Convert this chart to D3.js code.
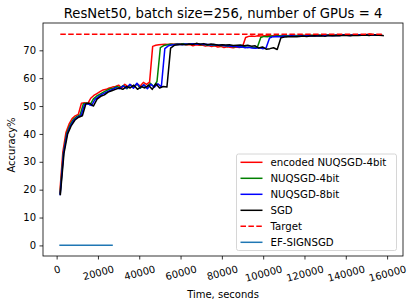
<!DOCTYPE html>
<html>
<head>
<meta charset="utf-8">
<script src="https://cdn.jsdelivr.net/npm/d3@7"></script>
<style>
  body { margin: 0; background: #fff; }
  text { font-family: "DejaVu Sans", sans-serif; }
</style>
</head>
<body>
<div id="chart"></div>
<script>
var redAcc = [18.5, 33.5, 40.5, 43.5, 45.5, 46.5, 47, 51, 51.2, 50.8,
  52.8, 53.8, 54.5, 55.2, 55.8, 56, 56.5, 56.8, 57, 57.5,
  56.5, 57.8, 57, 57.5, 56.8, 58, 57.2, 58.5, 57.8, 58.6,
  71.4, 71.8, 72, 72.1, 72.2, 72.1, 72.3, 72.2, 72.4, 72.2,
  72.3, 72, 72.1, 71.6, 72, 71.8, 71.9, 71.5, 71.7, 71.4,
  71.6, 71.2, 71.4, 71, 71.3, 71.1, 70.9, 71.2, 71, 71.3,
  74.6, 75, 75.1, 75, 75.2, 75.1, 75.2, 75.3, 75.1, 75.2,
  75.3, 75.2, 75.4, 75.2, 75.3, 75.4, 75.3, 75.2, 75.4, 75.3,
  75.5, 75.3, 75.4, 75.5, 75.3, 75.4, 75.6, 75.4, 75.5, 75.4,
  75.5, 75.6, 75.4, 75.5, 75.6, 75.5, 75.4, 75.6, 75.5, 75.7,
  75.9, 75.6, 75.5, 75.4, 75.3];
var greenAcc = [18.2, 33, 40.2, 43.2, 45.2, 46.2, 46.8, 50.8, 51, 50.4,
  52.6, 53.6, 54.3, 55, 55.6, 56.2, 56.4, 57, 56.6, 57.4,
  56.2, 57.6, 56.8, 58, 56.4, 57.6, 56.6, 58.2, 57, 58.8,
  71, 71.7, 72, 72.2, 72.1, 72.3, 72.2, 72.4, 72.1, 72.3,
  72.2, 72.4, 72, 72.2, 71.8, 72, 71.7, 71.9, 71.6, 71.8,
  71.4, 71.6, 71.2, 71.5, 71.1, 71.4, 71, 71.2, 70.9, 71.1,
  74.6, 75, 74.9, 75.1, 75, 75.2, 75.1, 75.3, 75.2, 75.1,
  75.3, 75.2, 75.4, 75.3, 75.2, 75.4, 75.3, 75.5, 75.4, 75.3,
  75.5, 75.4, 75.3, 75.5, 75.4, 75.6, 75.5, 75.4, 75.6, 75.5,
  75.4, 75.6, 75.5, 75.7, 75.5, 75.6, 75.4];
var blueAcc = [18, 33.2, 40, 43, 45, 46, 46.6, 50.6, 50.8, 50.2,
  52.4, 53.4, 54.2, 54.8, 55.4, 56, 56.6, 56.2, 57.2, 56.4,
  57.8, 56.4, 58.2, 56.6, 57.6, 56.2, 57.8, 56.8, 58, 56.9,
  70.6, 71.6, 71.9, 72.1, 72.2, 72, 72.3, 72.2, 72.4, 72.2,
  72.3, 72.1, 72.2, 71.9, 72.1, 71.8, 71.9, 71.6, 71.7, 71.4,
  71.5, 71.2, 71.3, 70.9, 71.1, 70.8, 70.7, 70.9, 70.6, 70.8,
  74.4, 74.9, 75, 74.9, 75.1, 75, 75.2, 75.1, 75, 75.2,
  75.1, 75.3, 75.2, 75.1, 75.3, 75.2, 75.4, 75.3, 75.2, 75.4,
  75.3, 75.5, 75.4, 75.3, 75.5, 75.4, 75.6, 75.5, 75.4, 75.6,
  75.5, 75.4, 75.6];
var sgdAcc = [18, 33, 40, 43, 45, 46, 46.5, 51, 51, 50,
  52.5, 53.5, 54, 55, 55.5, 56, 56.5, 56, 57, 56.5,
  57.5, 56, 57, 56.5, 57.5, 56, 58, 56.5, 57, 56.8,
  70.8, 71.8, 72, 72.2, 72, 72.3, 72.1, 72.5, 72.2, 72.4,
  72, 72.3, 72.1, 71.8, 72, 71.9, 72, 71.7, 71.8, 71.9,
  71.6, 71.8, 71.5, 71.6, 70.8, 71.2, 70.4, 70.6, 70.9, 70.3,
  74.5, 74.8, 74.9, 75, 74.9, 75, 75.1, 75, 75.1, 75.2,
  75.1, 75.2, 75, 75.3, 75.2, 75.3, 75.2, 75.4, 75.3, 75.2,
  75.4, 75.3, 75.4, 75.5, 75.3, 75.6, 75.4, 75.5, 75.2];
var secPerEpoch = { red: 1500, green: 1620, blue: 1690, black: 1780 };

var targetTime = [1780, 158420];
var targetAcc = [75.8, 75.8];
var efTime = [1300, 27200];
var efAcc = [0.1, 0.1];

var xTicks = [0, 20000, 40000, 60000, 80000, 100000, 120000, 140000, 160000];
var yTicks = [0, 10, 20, 30, 40, 50, 60, 70];

var seriesNames = ["encoded NUQSGD-4bit", "NUQSGD-4bit", "NUQSGD-8bit", "SGD", "Target", "EF-SIGNSGD"];
var seriesColors = ["#ff0000", "#008000", "#0000ff", "#000000", "#ff0000", "#1f77b4"];

var svgWidth = 416, svgHeight = 307;
var plot = { left: 43, right: 403, top: 23, bottom: 256 };

var svg = d3.select("#chart").append("svg")
    .attr("width", svgWidth)
    .attr("height", svgHeight);

var x = d3.scaleLinear().domain([-6600, 167700]).range([plot.left, plot.right]);
var y = d3.scaleLinear().domain([-3.8, 79.8]).range([plot.bottom, plot.top]);

function epochSeries(acc, dt) {
    return acc.map(function(a, i) { return { t: (i + 1) * dt, a: a }; });
}
function pairSeries(ts, as) {
    return ts.map(function(t, i) { return { t: t, a: as[i] }; });
}

var line = d3.line()
    .x(function(d) { return x(d.t); })
    .y(function(d) { return y(d.a); });

var curves = [
    { data: epochSeries(redAcc, secPerEpoch.red), color: seriesColors[0], dash: null },
    { data: epochSeries(greenAcc, secPerEpoch.green), color: seriesColors[1], dash: null },
    { data: epochSeries(blueAcc, secPerEpoch.blue), color: seriesColors[2], dash: null },
    { data: epochSeries(sgdAcc, secPerEpoch.black), color: seriesColors[3], dash: null },
    { data: pairSeries(targetTime, targetAcc), color: seriesColors[4], dash: "5.5,2.4" },
    { data: pairSeries(efTime, efAcc), color: seriesColors[5], dash: null }
];

svg.append("defs").append("clipPath").attr("id", "clip")
    .append("rect")
    .attr("x", plot.left).attr("y", plot.top)
    .attr("width", plot.right - plot.left).attr("height", plot.bottom - plot.top);

var g = svg.append("g").attr("clip-path", "url(#clip)");
curves.forEach(function(c) {
    g.append("path")
        .datum(c.data)
        .attr("fill", "none")
        .attr("stroke", c.color)
        .attr("stroke-width", 1.5)
        .attr("stroke-linejoin", "round")
        .attr("stroke-dasharray", c.dash)
        .attr("d", line);
});

// axes
var xAxis = svg.append("g")
    .attr("transform", "translate(0," + plot.bottom + ")")
    .call(d3.axisBottom(x).tickValues(xTicks).tickSizeOuter(0).tickSize(3.5).tickFormat(d3.format("d")));
xAxis.select(".domain").remove();
xAxis.selectAll("line").attr("stroke-width", 0.8);

// rotated tick labels, bounding box centred under the tick like matplotlib
var ang = 15 * Math.PI / 180;
xAxis.selectAll("text").each(function(d) {
    var t = d3.select(this);
    t.attr("font-size", 10).attr("font-family", "DejaVu Sans").attr("fill", "#000");
    var w = this.getComputedTextLength();
    var h = 11.6;
    var bh = w * Math.sin(ang) + h * Math.cos(ang);
    t.attr("y", null).attr("dy", null)
        .attr("dominant-baseline", "central")
        .attr("text-anchor", "middle")
        .attr("transform", "translate(0," + (7 + bh / 2) + ") rotate(-15)");
});

var yAxis = svg.append("g")
    .attr("transform", "translate(" + plot.left + ",0)")
    .call(d3.axisLeft(y).tickValues(yTicks).tickSizeOuter(0).tickSize(3.5));
yAxis.select(".domain").remove();
yAxis.selectAll("line").attr("stroke-width", 0.8);
yAxis.selectAll("text")
    .attr("font-size", 10)
    .attr("font-family", "DejaVu Sans")
    .attr("fill", "#000")
    .attr("x", -7);

svg.append("rect")
    .attr("x", plot.left).attr("y", plot.top)
    .attr("width", plot.right - plot.left).attr("height", plot.bottom - plot.top)
    .attr("fill", "none")
    .attr("stroke", "#000")
    .attr("stroke-width", 0.8);

// labels
svg.append("text")
    .attr("x", (plot.left + plot.right) / 2)
    .attr("y", 17.5)
    .attr("text-anchor", "middle")
    .attr("font-size", 13.2)
    .text("ResNet50, batch size=256, number of GPUs = 4");

svg.append("text")
    .attr("x", (plot.left + plot.right) / 2)
    .attr("y", 298)
    .attr("text-anchor", "middle")
    .attr("font-size", 10)
    .text("Time, seconds");

svg.append("text")
    .attr("transform", "translate(15,145) rotate(-90)")
    .attr("text-anchor", "middle")
    .attr("font-size", 10)
    .text("Accuracy%");

// legend
var legend = svg.append("g");
legend.append("rect")
    .attr("x", 236.5).attr("y", 154)
    .attr("width", 160).attr("height", 96.5)
    .attr("rx", 2)
    .attr("fill", "#fff")
    .attr("fill-opacity", 0.8)
    .attr("stroke", "#cccccc")
    .attr("stroke-width", 0.8);

seriesNames.forEach(function(name, i) {
    var ly = 162.3 + i * 16;
    legend.append("line")
        .attr("x1", 240.5).attr("x2", 262.5)
        .attr("y1", ly).attr("y2", ly)
        .attr("stroke", seriesColors[i])
        .attr("stroke-width", 1.5)
        .attr("stroke-dasharray", curves[i].dash);
    legend.append("text")
        .attr("x", 270.5)
        .attr("y", ly)
        .attr("dy", "0.35em")
        .attr("font-size", 10.2)
        .text(name);
});
</script>
</body>
</html>
